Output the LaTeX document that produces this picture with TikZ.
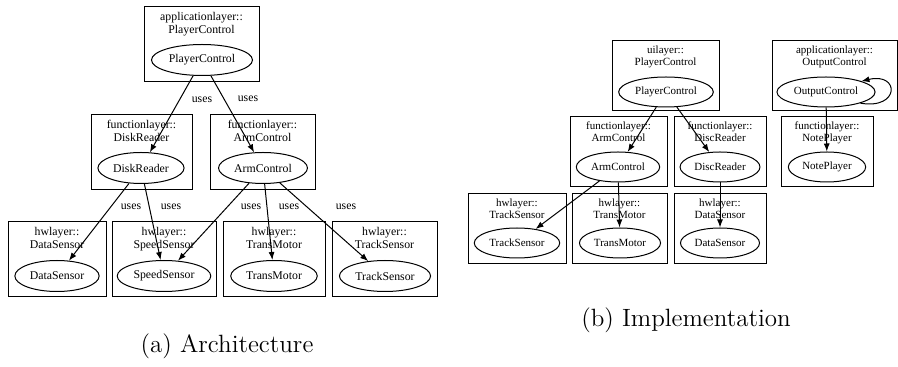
\documentclass[tikz,border=0pt]{standalone}
\usepackage{fontspec}
\usepackage{tikz}
\usetikzlibrary{arrows.meta,fit,shapes.geometric,positioning}
\newfontfamily\gvfont{Liberation Serif}

\begin{document}
\begin{tikzpicture}[x=0.5pt,y=-0.5pt,
  pkg/.style={draw,line width=0.5pt,inner sep=0pt},
  ttlA/.style={font=\gvfont\fontsize{5.9}{6.5}\selectfont,align=center,inner sep=0pt},
  ttlB/.style={font=\gvfont\fontsize{5.5}{6}\selectfont,align=center,inner sep=0pt},
  clsA/.style={draw,ellipse,line width=0.5pt,font=\gvfont\fontsize{5.9}{6.5}\selectfont,inner xsep=1.3pt,inner ysep=0pt,minimum height=15.5pt},
  clsB/.style={draw,ellipse,line width=0.5pt,font=\gvfont\fontsize{5.5}{6}\selectfont,inner xsep=1.3pt,inner ysep=0pt,minimum height=15pt},
  uses/.style={line width=0.5pt,-{Latex[length=4pt,width=3pt]}},
  lbl/.style={font=\gvfont\fontsize{5.9}{6.5}\selectfont,inner sep=0pt},
  subcap/.style={font=\fontsize{12.5}{15}\selectfont,inner sep=0pt}]
\useasboundingbox (0,0) rectangle (898,367);

% (a) architecture
\node[pkg,fit={(144,7) (259,82)}] (boxPC) {};
\node[ttlA,below=2.5pt of boxPC.north] (tPC) {applicationlayer::\\PlayerControl};
\node[clsA] (PC) at (202,60) {PlayerControl};
\node[pkg,fit={(91,115) (192,190)}] (boxDR) {};
\node[ttlA,below=2.5pt of boxDR.north] (tDR) {functionlayer::\\DiskReader};
\node[clsA] (DR) at (141,168) {DiskReader};
\node[pkg,fit={(210,115) (315,190)}] (boxAC) {};
\node[ttlA,below=2.5pt of boxAC.north] (tAC) {functionlayer::\\ArmControl};
\node[clsA] (AC) at (263,168) {ArmControl};
\node[pkg,fit={(8,222) (106,297)}] (boxDS) {};
\node[ttlA,below=2.5pt of boxDS.north] (tDS) {hwlayer::\\DataSensor};
\node[clsA] (DS) at (57,276) {DataSensor};
\node[pkg,fit={(112,222) (216,297)}] (boxSS) {};
\node[ttlA,below=2.5pt of boxSS.north] (tSS) {hwlayer::\\SpeedSensor};
\node[clsA] (SS) at (164,276) {SpeedSensor};
\node[pkg,fit={(223,222) (325,297)}] (boxTM) {};
\node[ttlA,below=2.5pt of boxTM.north] (tTM) {hwlayer::\\TransMotor};
\node[clsA] (TM) at (274,276) {TransMotor};
\node[pkg,fit={(332,222) (437,297)}] (boxTS) {};
\node[ttlA,below=2.5pt of boxTS.north] (tTS) {hwlayer::\\TrackSensor};
\node[clsA] (TS) at (385,276) {TrackSensor};

\draw[uses] (PC) -- (DR);
\draw[uses] (PC) -- (AC);
\draw[uses] (DR) -- (DS);
\draw[uses] (DR) -- (SS);
\draw[uses] (AC) -- (SS);
\draw[uses] (AC) -- (TM);
\draw[uses] (AC) -- (TS);
\node[lbl] (u1) at (202,100) {uses};
\node[lbl] (u2) at (248,99) {uses};
\node[lbl] (u3) at (131,207) {uses};
\node[lbl] (u4) at (171,207) {uses};
\node[lbl] (u5) at (251,207) {uses};
\node[lbl] (u6) at (289,207) {uses};
\node[lbl] (u7) at (346,207) {uses};
\node[subcap] (capA) at (227,346) {(a) Architecture};

% (b) implementation
\node[pkg,fit={(612,41) (719,111)}] (boxPC2) {};
\node[ttlB,below=2.5pt of boxPC2.north] (tPC2) {uilayer::\\PlayerControl};
\node[clsB] (PC2) at (666,92) {PlayerControl};
\node[pkg,fit={(772,41) (897,111)}] (boxOC) {};
\node[ttlB,below=2.5pt of boxOC.north] (tOC) {applicationlayer::\\OutputControl};
\node[clsB] (OC) at (826,92) {OutputControl};
\node[pkg,fit={(570,117) (667,187)}] (boxAC2) {};
\node[ttlB,below=2.5pt of boxAC2.north] (tAC2) {functionlayer::\\ArmControl};
\node[clsB] (AC2) at (618,167) {ArmControl};
\node[pkg,fit={(674,117) (766,187)}] (boxDR2) {};
\node[ttlB,below=2.5pt of boxDR2.north] (tDR2) {functionlayer::\\DiscReader};
\node[clsB] (DR2) at (720,167) {DiscReader};
\node[pkg,fit={(781,117) (873,187)}] (boxNP) {};
\node[ttlB,below=2.5pt of boxNP.north] (tNP) {functionlayer::\\NotePlayer};
\node[clsB] (NP) at (827,167) {NotePlayer};
\node[pkg,fit={(468,194) (566,264)}] (boxTS2) {};
\node[ttlB,below=2.5pt of boxTS2.north] (tTS2) {hwlayer::\\TrackSensor};
\node[clsB] (TS2) at (517,243) {TrackSensor};
\node[pkg,fit={(572,194) (667,264)}] (boxTM2) {};
\node[ttlB,below=2.5pt of boxTM2.north] (tTM2) {hwlayer::\\TransMotor};
\node[clsB] (TM2) at (620,243) {TransMotor};
\node[pkg,fit={(674,194) (766,264)}] (boxDS2) {};
\node[ttlB,below=2.5pt of boxDS2.north] (tDS2) {hwlayer::\\DataSensor};
\node[clsB] (DS2) at (720,243) {DataSensor};

\draw[uses] (PC2) -- (AC2);
\draw[uses] (PC2) -- (DR2);
\draw[uses] (OC) -- (NP);
\draw[uses] (AC2) -- (TS2);
\draw[uses] (AC2) -- (TM2);
\draw[uses] (DR2) -- (DS2);
\draw[uses] (OC.-18) .. controls (900,110) and (900,72) .. (OC.17);
\node[subcap] (capB) at (686,320) {(b) Implementation};
\end{tikzpicture}
\end{document}
